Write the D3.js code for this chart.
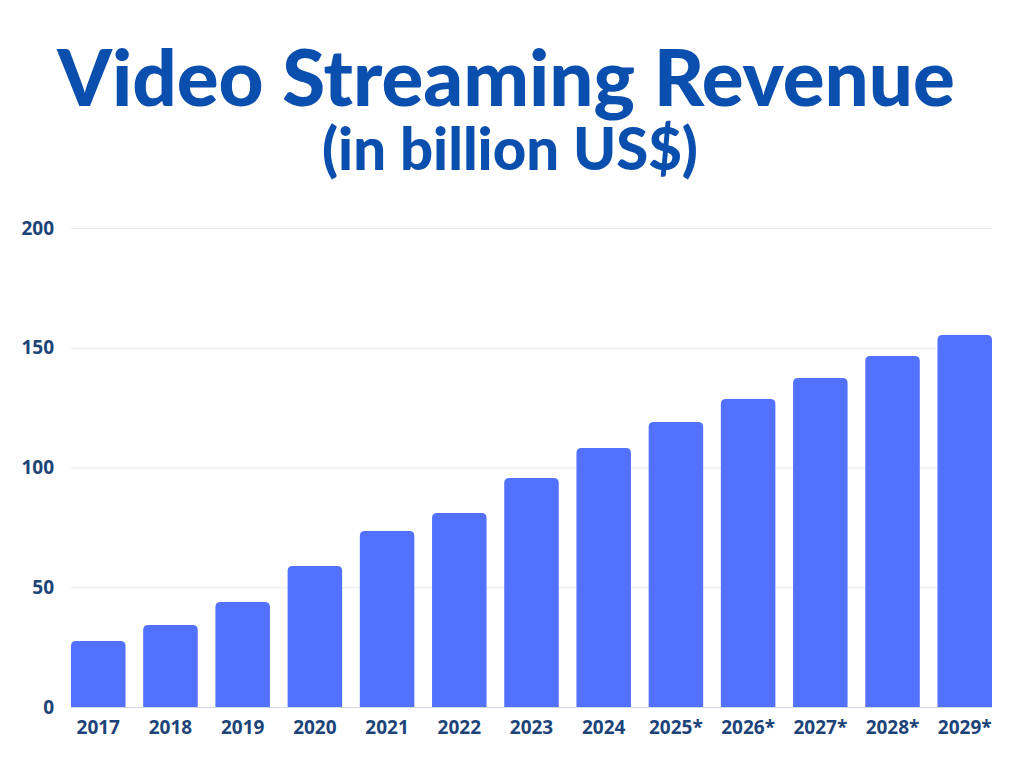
<!DOCTYPE html>
<html>
<head>
<meta charset="utf-8">
<script src="https://cdn.jsdelivr.net/npm/d3@7"></script>
<style>
  html, body { margin: 0; padding: 0; background: #ffffff; }
  svg { display: block; }
</style>
</head>
<body>
<svg id="chart" width="1024" height="768"></svg>
<script>
// values
const years = ['2017', '2018', '2019', '2020', '2021', '2022', '2023', '2024', '2025*', '2026*', '2027*', '2028*', '2029*'];
const revenue = [27.6, 34.2, 43.8, 58.9, 73.5, 81.0, 95.6, 108.1, 119.0, 128.6, 137.4, 146.6, 155.3];
const yTicks = [0, 50, 100, 150, 200];
const titleLines = ['Video Streaming Revenue', '(in billion US$)'];

const svg = d3.select('#chart');

const margin = { top: 228, right: 32, bottom: 61, left: 71 };
const width = 1024 - margin.left - margin.right;
const height = 768 - margin.top - margin.bottom;

const x = d3.scaleBand()
    .domain(years)
    .range([0, width])
    .paddingInner(0.245)
    .paddingOuter(0);

const y = d3.scaleLinear()
    .domain([0, 200])
    .range([height, 0]);

// title, sized to the width it takes in the reference
function fitTitle(text, xPos, yPos, targetWidth)
{
    const t = svg.append('text')
        .attr('x', xPos)
        .attr('y', yPos)
        .attr('text-anchor', 'middle')
        .attr('font-family', 'Lato, "Open Sans", sans-serif')
        .attr('font-weight', 900)
        .attr('fill', '#0b4fae')
        .attr('font-size', 80)
        .text(text);
    const w = t.node().getComputedTextLength();
    t.attr('font-size', 80 * targetWidth / w);
    return t;
}

fitTitle(titleLines[0], 506, 106, 898);
fitTitle(titleLines[1], 510, 170, 376);

const g = svg.append('g')
    .attr('transform', `translate(${margin.left},${margin.top})`);

// gridlines
g.append('g')
    .selectAll('line')
    .data(yTicks)
    .join('line')
    .attr('x1', 0)
    .attr('x2', width)
    .attr('y1', (d) => y(d) + 0.5)
    .attr('y2', (d) => y(d) + 0.5)
    .attr('stroke', (d) => (d === 0 ? '#cfd8e3' : '#e3e8ee'))
    .attr('stroke-width', 1);

const labelFont = (sel) => sel
    .attr('font-family', '"Open Sans", sans-serif')
    .attr('font-weight', 700)
    .attr('font-size', 19)
    .attr('fill', '#1c4478');

// y axis labels
const yAxis = g.append('g')
    .call(d3.axisLeft(y).tickValues(yTicks).tickSize(0).tickPadding(17));
yAxis.select('.domain').remove();
yAxis.selectAll('text').call(labelFont);

// bars with rounded top corners
const r = 5;
function barPath(d, i)
{
    const x0 = x(years[i]);
    const x1 = x0 + x.bandwidth();
    const top = y(d);
    const bottom = y(0);
    return `M${x0},${bottom}V${top + r}Q${x0},${top} ${x0 + r},${top}`
        + `H${x1 - r}Q${x1},${top} ${x1},${top + r}V${bottom}Z`;
}

g.append('g')
    .selectAll('path')
    .data(revenue)
    .join('path')
    .attr('d', barPath)
    .attr('fill', '#5271ff');

// x axis labels
const xAxis = g.append('g')
    .attr('transform', `translate(0,${height})`)
    .call(d3.axisBottom(x).tickSize(0).tickPadding(14));
xAxis.select('.domain').remove();
xAxis.selectAll('text').call(labelFont);
</script>
</body>
</html>
